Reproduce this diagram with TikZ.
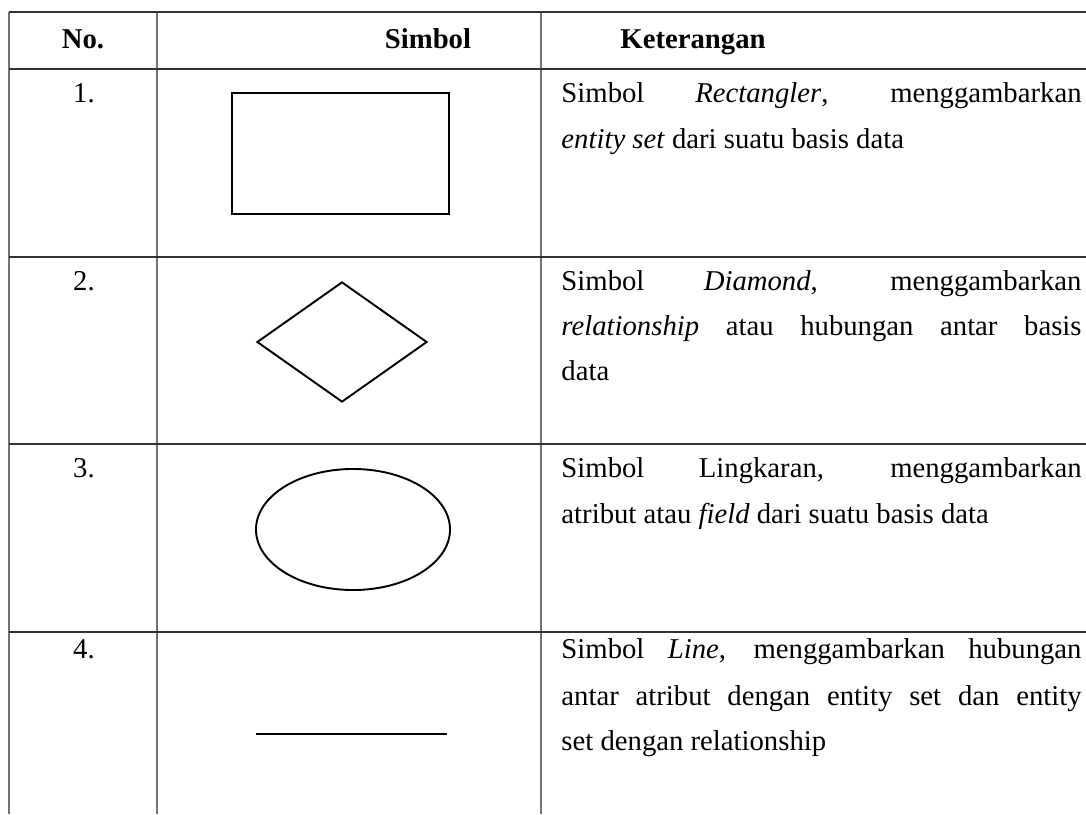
\documentclass[tikz,border=0pt]{standalone}
\usepackage{fontspec}
\setmainfont{Liberation Serif}
\usetikzlibrary{shapes.geometric}

\newcommand{\ketline}[1]{\makebox[217.4pt][s]{#1}}

\begin{document}
\begin{tikzpicture}
[   x=0.418pt, y=-0.418pt,
    hline/.style={draw=black!80,line width=0.45pt},
    vline/.style={draw=black!55,line width=0.5pt},
    symb/.style={draw=black,line width=0.8pt,inner sep=0pt},
    txt/.style={anchor=base west,inner sep=0pt,font=\fontsize{12pt}{14pt}\selectfont},
    num/.style={anchor=base,inner sep=0pt,font=\fontsize{12pt}{14pt}\selectfont},
]
    \useasboundingbox (0,0) rectangle (1086,814);
    % grid of the table
    \foreach \x in {9,157,541}
    {   \draw[vline] (\x,12) -- (\x,814);
    }
    \foreach \y in {12,69,257,444,632}
    {   \draw[hline] (9,\y) -- (1086,\y);
    }
    % header
    \node[num,font=\fontsize{12pt}{14pt}\selectfont\bfseries] (h-no) at (83,48) {No.};
    \node[num,font=\fontsize{12pt}{14pt}\selectfont\bfseries] (h-simbol) at (428,48) {Simbol};
    \node[txt,font=\fontsize{12pt}{14pt}\selectfont\bfseries] (h-ket) at (620,48) {Keterangan};
    % row numbers
    \foreach \n/\y in {1/102,2/290,3/477,4/658}
    {   \node[num] (no-\n) at (84,\y) {\n.};
    }
    % symbols
    \node[symb,rectangle,minimum width=90.7pt,minimum height=50.6pt] (entitas) at (340.5,153.5) {};
    \node[symb,diamond,aspect=1.42,minimum width=71.1pt,minimum height=50.2pt] (relasi) at (342,342) {};
    \node[symb,ellipse,minimum width=81.1pt,minimum height=50.6pt] (atribut) at (353,529.5) {};
    \coordinate (garis-a) at (256,734);
    \coordinate (garis-b) at (447,734);
    \draw[line width=0.9pt] (garis-a) -- (garis-b);
    % keterangan
    \node[txt] (k-1a) at (561,102) {\ketline{Simbol \textit{Rectangler}, menggambarkan}};
    \node[txt] (k-1b) at (561,148) {\textit{entity set} dari suatu basis data};
    \node[txt] (k-2a) at (561,290) {\ketline{Simbol \textit{Diamond}, menggambarkan}};
    \node[txt] (k-2b) at (561,335) {\ketline{\textit{relationship} atau hubungan antar basis}};
    \node[txt] (k-2c) at (561,380) {data};
    \node[txt] (k-3a) at (561,477) {\ketline{Simbol Lingkaran, menggambarkan}};
    \node[txt] (k-3b) at (561,523) {atribut atau \textit{field} dari suatu basis data};
    \node[txt] (k-4a) at (561,658) {\ketline{Simbol \textit{Line}, menggambarkan hubungan}};
    \node[txt] (k-4b) at (561,705) {\ketline{antar atribut dengan entity set dan entity}};
    \node[txt] (k-4c) at (561,750) {set dengan relationship};
\end{tikzpicture}
\end{document}
